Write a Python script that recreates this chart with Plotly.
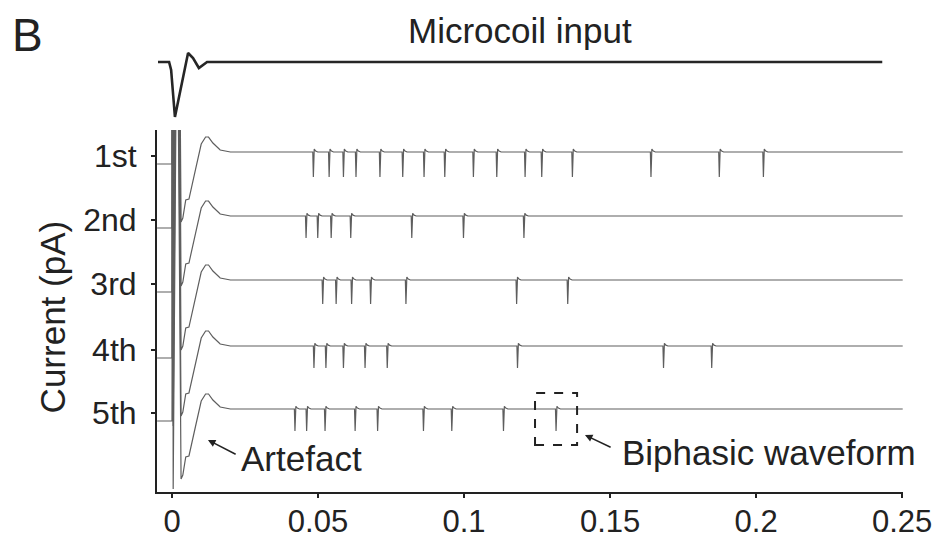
import plotly.graph_objects as go

# ---------------- data ----------------
trial_labels = ["1st", "2nd", "3rd", "4th", "5th"]
trial_offsets = [0, -64, -128, -194, -257]          # vertical offset of each sweep (pA, stacked)
spike_depths = [25, 22, 24, 22, 22]                  # spike amplitude per sweep (pA)
spike_times = [
    [0.0484, 0.0538, 0.0587, 0.0630, 0.0712, 0.0790, 0.0863, 0.0934, 0.1032,
     0.1112, 0.1209, 0.1266, 0.1371, 0.1640, 0.1874, 0.2025],
    [0.0459, 0.0499, 0.0545, 0.0612, 0.0821, 0.0998, 0.1205],
    [0.0516, 0.0562, 0.0615, 0.0680, 0.0801, 0.1180, 0.1355],
    [0.0486, 0.0527, 0.0587, 0.0661, 0.0737, 0.1183, 0.1683, 0.1848],
    [0.0421, 0.0461, 0.0524, 0.0627, 0.0704, 0.0861, 0.0958, 0.1135, 0.1315],
]
# stimulation artefact shape (time s, current relative to baseline)
artefact_t = [-0.0051, 0.0, 0.0002, 0.0004, 0.0016, 0.0019, 0.0031, 0.0037, 0.0047,
              0.0058, 0.0080, 0.0100, 0.0115, 0.0125, 0.0140, 0.0165, 0.0200]
artefact_v = [-12, -12, 400, -80, 400, 400, -70, -66, -48, -47, -18, 8, 15, 15, 9, 2, 0]
# single biphasic spike shape (time relative to spike, fraction of depth)
spike_shape_t = [-0.0002, 0.0, 0.0003, 0.0008, 0.0015]
spike_shape_v = [0.0, -1.0, 0.12, 0.04, 0.0]
sweep_end = 0.2502

# microcoil input waveform
coil_t = [-0.0048, -0.0010, -0.0003, 0.0010, 0.0055, 0.0072, 0.0092, 0.0120, 0.2432]
coil_v = [0, 0, -8, -55, 9, 4, -6, 0, 0]

x_ticks = [0, 0.05, 0.1, 0.15, 0.2, 0.25]
x_ticktext = ["0", "0.05", "0.1", "0.15", "0.2", "0.25"]

FONT = "Liberation Sans, Arial, Helvetica, sans-serif"
TXT = "#222222"

fig = go.Figure()

for i, lab in enumerate(trial_labels):
    xs = list(artefact_t)
    ys = [v + trial_offsets[i] for v in artefact_v]
    for t in spike_times[i]:
        for dt, dv in zip(spike_shape_t, spike_shape_v):
            xs.append(t + dt)
            ys.append(trial_offsets[i] + dv * spike_depths[i])
    xs.append(sweep_end)
    ys.append(trial_offsets[i])
    fig.add_trace(go.Scatter(x=xs, y=ys, mode="lines", name=lab,
                             line=dict(color="#5e5e5e", width=1.2),
                             hoverinfo="skip", showlegend=False))

fig.add_trace(go.Scatter(x=coil_t, y=coil_v, mode="lines", yaxis="y2",
                         line=dict(color="#262626", width=2.6),
                         hoverinfo="skip", showlegend=False))

fig.update_layout(
    width=941, height=543,
    margin=dict(l=157, r=38, t=20, b=51),
    paper_bgcolor="white", plot_bgcolor="white",
    font=dict(family=FONT, color=TXT, size=32),
    xaxis=dict(range=[-0.00514, 0.2503], anchor="y", showline=True, linewidth=2,
               linecolor=TXT, ticks="outside", ticklen=4, tickwidth=1.5,
               tickcolor=TXT, tickvals=x_ticks, ticktext=x_ticktext,
               showgrid=False, zeroline=False, automargin=False,
               tickfont=dict(size=31, family=FONT, color=TXT),
               ticklabelstandoff=-3),
    yaxis=dict(domain=[0, 0.7669], range=[-340, 22], showline=True, linewidth=2,
               linecolor=TXT, ticks="outside", ticklen=4, tickwidth=1.5,
               tickcolor=TXT, tickvals=[o - 4 for o in trial_offsets],
               ticktext=trial_labels, showgrid=False, zeroline=False,
               automargin=False,
               tickfont=dict(size=32, family=FONT, color=TXT),
               ticklabelstandoff=8),
    yaxis2=dict(domain=[0.77, 1.0], range=[-66.6, 42], anchor="x", visible=False),
    shapes=[dict(type="rect", xref="x", yref="y", x0=0.1243, x1=0.1387,
                 y0=-293, y1=-241, line=dict(color="#222", width=2, dash="dash"))],
    annotations=[
        dict(text="B", xref="paper", yref="paper", x=-0.173, y=0.968,
             xanchor="center", yanchor="middle",
             showarrow=False, font=dict(size=46, family=FONT, color=TXT)),
        dict(text="Microcoil input", xref="paper", yref="paper", x=0.4866, y=(492 - 30) / 472,
             xanchor="center", yanchor="middle",
             showarrow=False, font=dict(size=35, family=FONT, color=TXT)),
        dict(text="Current (pA)", xref="paper", yref="paper", x=-0.1408, y=0.372,
             xanchor="center", yanchor="middle",
             textangle=-90, showarrow=False, font=dict(size=35, family=FONT, color=TXT)),
        dict(text="Artefact", xref="x", yref="y", x=0.0442, y=-306,
             xanchor="center", yanchor="middle",
             showarrow=False, font=dict(size=35, family=FONT, color=TXT)),
        dict(text="Biphasic waveform", xref="x", yref="y", x=0.2045, y=-300,
             xanchor="center", yanchor="middle",
             showarrow=False, font=dict(size=35, family=FONT, color=TXT)),
        dict(text="", xref="x", yref="y", x=0.0123, y=-288, axref="x", ayref="y",
             ax=0.0223, ay=-303, showarrow=True, arrowhead=2, arrowsize=1,
             arrowwidth=1.5, arrowcolor=TXT),
        dict(text="", xref="x", yref="y", x=0.1414, y=-283, axref="x", ayref="y",
             ax=0.1507, ay=-296, showarrow=True, arrowhead=2, arrowsize=1,
             arrowwidth=1.5, arrowcolor=TXT),
    ],
)

fig.write_html("out.html", config={"displayModeBar": False})
